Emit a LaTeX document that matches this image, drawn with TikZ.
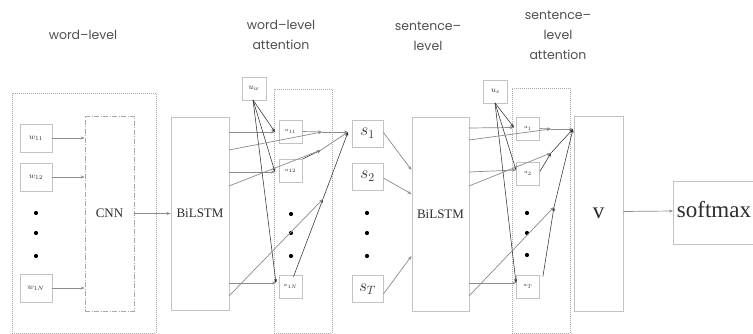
\documentclass[tikz,border=0pt]{standalone}
\usepackage{fontspec}
\setmainfont{Liberation Serif}
\newfontfamily\headfont{Poppins}
\usetikzlibrary{arrows.meta,calc}
\definecolor{boxgray}{RGB}{195,195,195}
\definecolor{dotgray}{RGB}{170,170,170}
\definecolor{linegray}{RGB}{140,140,140}
\definecolor{darkline}{RGB}{50,50,50}
\definecolor{headtxt}{RGB}{80,80,80}
\definecolor{boxtxt}{RGB}{45,45,45}
\begin{document}
\begin{tikzpicture}[x=1pt,y=-1pt,
  box/.style={draw=boxgray,line width=0.8pt,inner sep=0pt,text=boxtxt},
  dotbox/.style={draw=dotgray,line width=0.7pt,dash pattern=on 1pt off 1pt,inner sep=0pt},
  dashbox/.style={draw=dotgray,line width=0.7pt,dash pattern=on 5pt off 1.5pt on 1pt off 1.5pt,inner sep=0pt,text=boxtxt},
  wbox/.style={box,minimum width=32pt,minimum height=28pt,font=\fontsize{8}{8}\selectfont},
  abox/.style={box,minimum width=23pt,minimum height=23pt,font=\fontsize{5.5}{6}\selectfont},
  ubox/.style={box,minimum width=24pt,minimum height=23pt,font=\fontsize{8}{8}\selectfont},
  sbox/.style={box,minimum width=31pt,minimum height=27pt,font=\fontsize{17}{17}\selectfont},
  bigbox/.style={box,font=\fontsize{13}{13}\selectfont},
  dotn/.style={circle,fill=black,inner sep=0pt,minimum size=4.2pt},
  head/.style={align=center,text=headtxt,font=\headfont\fontsize{12.5}{20}\selectfont},
  garr/.style={draw=linegray,line width=0.7pt,-{Stealth[length=4pt,width=3pt]}},
  darr/.style={draw=darkline,line width=0.55pt,-{Stealth[length=4pt,width=3pt]}}
]
\useasboundingbox (0,0) rectangle (753,334);
\fill[white] (0,0) rectangle (753,334);

% headers
\node[head] (h1t) at (83,35) {word–level};
\node[head] (h2t) at (281,35) {word–level\\attention};
\node[head] (h3t) at (428,36) {sentence–\\level};
\node[head] (h4t) at (558,35) {sentence–\\level\\attention};

% word level
\node[dotbox,minimum width=144pt,minimum height=240pt] (wordbox) at (84,213) {};
\node[wbox] (w11) at (36,138) {$w_{11}$};
\node[wbox] (w12) at (36,177) {$w_{12}$};
\node[wbox] (w1N) at (36,288) {$w_{1N}$};
\node[dotn] (wd1) at (36,213) {};
\node[dotn] (wd2) at (36,233) {};
\node[dotn] (wd3) at (36,256) {};
\node[dashbox,minimum width=49pt,minimum height=195pt,font=\fontsize{13}{13}\selectfont] (cnn) at (109.5,213.5) {CNN};
\draw[garr] (w11.east) -- (w11.east -| cnn.west);
\draw[garr] (w12.east) -- (w12.east -| cnn.west);
\draw[garr] (w1N.east) -- (w1N.east -| cnn.west);
\node[bigbox,minimum width=58pt,minimum height=193pt] (bl1) at (200,213.5) {BiLSTM};
\draw[garr] (cnn.east) -- (bl1.west);

% word attention
\node[ubox] (uw) at (254,88.5) {$u_w$};
\node[dotbox,minimum width=58pt,minimum height=244pt] (watt) at (303,211) {};
\node[abox] (a11) at (290.5,131.5) {$a_{11}$};
\node[abox] (a12) at (290.5,171) {$a_{12}$};
\node[abox] (a1N) at (290.5,286.5) {$a_{1N}$};
\node[dotn] (ad1) at (291,214) {};
\node[dotn] (ad2) at (291,233) {};
\node[dotn] (ad3) at (291,256) {};

\coordinate (hA) at (229,132);
\coordinate (hAb) at (229,150);
\coordinate (hB) at (229,172);
\coordinate (hBb) at (229,186);
\coordinate (hC) at (229,283);
\coordinate (hCb) at (229,296);
\coordinate (ua) at (253,100);
\coordinate (ta1) at (275,132);
\coordinate (ta2) at (275,172);
\coordinate (ta3) at (276,283);
\coordinate (p1) at (322,132);
\coordinate (p2) at (321,150);
\coordinate (p3) at (323,199);
\coordinate (j1) at (348,132);

\draw[garr] (hA) -- (ta1);
\draw[garr] (hB) -- (ta2);
\draw[garr] (hC) -- (ta3);
\draw[darr] (ua) -- (ta1);
\draw[darr] (ua) -- (ta2);
\draw[darr] (ua) -- (ta3);
\draw[garr] (a11.east) -- (p1);
\draw[garr] (hAb) -- (p1);
\draw[darr] (a12.north east) -- (p2);
\draw[garr] (hBb) -- (p2);
\draw[darr] ($(a1N.north)+(3,2)$) -- (p3);
\draw[garr] (hCb) -- (p3);
\draw[garr] (p1) -- (j1);
\draw[garr] (p2) -- (j1);
\draw[darr] (p3) -- (j1);

% sentence level
\node[sbox] (s1) at (367.5,133.5) {$s_1$};
\node[sbox] (s2) at (367.5,176.5) {$s_2$};
\node[sbox] (sT) at (367.5,289) {$s_T$};
\node[dotn] (sd1) at (367,213) {};
\node[dotn] (sd2) at (367,233) {};
\node[dotn] (sd3) at (367,256) {};
\node[bigbox,minimum width=57pt,minimum height=194pt] (bl2) at (440.5,214) {BiLSTM};
\coordinate (b2a) at (411.5,170);
\coordinate (b2b) at (411.5,194);
\coordinate (b2c) at (411.5,256);
\draw[garr] ($(s1.east)+(0,-1)$) -- (b2a);
\draw[garr] ($(s2.east)+(0,1.5)$) -- (b2b);
\draw[garr] ($(sT.east)+(0,5)$) -- (b2c);

% sentence attention
\node[ubox] (us) at (495.5,91.5) {$u_s$};
\node[dotbox,minimum width=58pt,minimum height=245pt] (satt) at (541,210.5) {};
\node[abox] (a1) at (528,128.5) {$a_1$};
\node[abox] (a2) at (528,173.5) {$a_2$};
\node[abox] (aT) at (528,286.5) {$a_T$};
\node[dotn] (bd1) at (527,213) {};
\node[dotn] (bd2) at (527,233) {};
\node[dotn] (bd3) at (527,255) {};

\coordinate (gA) at (469,128);
\coordinate (gAb) at (469,140);
\coordinate (gB) at (469,172);
\coordinate (gBb) at (469,186);
\coordinate (gC) at (469,283);
\coordinate (gCb) at (469,296);
\coordinate (ub) at (495,103);
\coordinate (tb1) at (514,127.5);
\coordinate (tb2) at (516,170);
\coordinate (tb3) at (516,283);
\coordinate (q1) at (551,129);
\coordinate (q2) at (551,153);
\coordinate (q3) at (554,207);
\coordinate (j2) at (573,129);

\draw[garr] (gA) -- (tb1);
\draw[garr] (gB) -- (tb2);
\draw[garr] (gC) -- (tb3);
\draw[darr] (ub) -- (tb1);
\draw[darr] (ub) -- (tb2);
\draw[darr] (ub) -- (tb3);
\draw[garr] (a1.east) -- (q1);
\draw[garr] (gAb) -- (q1);
\draw[darr] ($(a2.east)+(0,-2)$) -- (q2);
\draw[garr] (gBb) -- (q2);
\draw[darr] ($(aT.north east)+(3,2)$) -- (q3);
\draw[garr] (gCb) -- (q3);
\draw[garr] (q1) -- (j2);
\draw[darr] (q2) -- (j2);
\draw[darr] (q3) -- (j2);

% v and softmax
\node[box,minimum width=49pt,minimum height=195pt,font=\fontsize{23}{23}\selectfont] (v) at (598.5,213.5) {v};
\node[box,anchor=west,minimum height=63pt,inner xsep=3.5pt,font=\fontsize{23}{23}\selectfont] (sm) at (673,212.5) {softmax\strut\hspace{14pt}};
\draw[garr] ($(v.east)+(0,-2)$) -- ($(sm.west)+(0,-1.5)$);
\end{tikzpicture}
\end{document}
